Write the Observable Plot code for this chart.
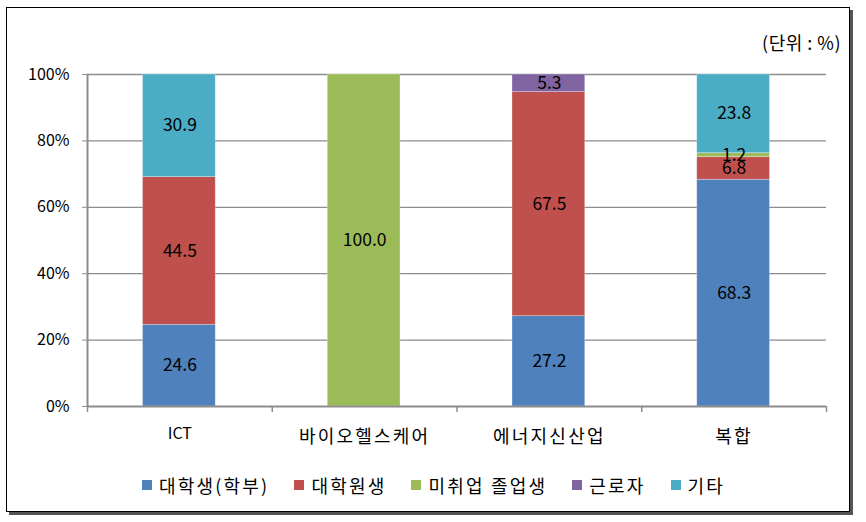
<!DOCTYPE html>
<html><head><meta charset="utf-8">
<script src="https://cdn.jsdelivr.net/npm/d3@7"></script>
<script src="https://cdn.jsdelivr.net/npm/@observablehq/plot@0.6"></script>
<style>
body{margin:0;background:#fff;font-family:"Noto Sans CJK KR","Noto Sans",sans-serif;}
#wrap{position:relative;width:866px;height:522px;}
#frame{position:absolute;left:6px;top:7px;width:842px;height:503px;border:1.5px solid #000;box-shadow:3px 3px 0 #555;}
#chart{position:absolute;left:0;top:0;}
#unit{position:absolute;right:25px;top:29px;font-size:18px;color:#000;letter-spacing:0.5px;}
#legend{position:absolute;left:142px;top:472px;display:flex;gap:25px;font-size:18px;letter-spacing:2.2px;color:#000;align-items:center;}
#legend .it{display:flex;align-items:center;}
#legend span.sw{display:inline-block;width:10px;height:10px;margin-right:7px;}
</style></head>
<body><div id="wrap"><div id="frame"></div><div id="chart"></div><div id="unit">(단위 : %)</div><div id="legend"></div></div>
<script>
const categories = ["ICT", "바이오헬스케어", "에너지신산업", "복합"];
const seriesNames = ["대학생(학부)", "대학원생", "미취업 졸업생", "근로자", "기타"];
const colors = ["#4F81BD", "#C0504D", "#9BBB59", "#8064A2", "#4BACC6"];
const values = {
  "대학생(학부)": [24.6, 0, 27.2, 68.3],
  "대학원생": [44.5, 0, 67.5, 6.8],
  "미취업 졸업생": [0, 100.0, 0, 1.2],
  "근로자": [0, 0, 5.3, 0],
  "기타": [30.9, 0, 0, 23.8]
};
const yTicks = [0, 20, 40, 60, 80, 100];

const rows = [];
categories.forEach((c, i) => {
  let acc = 0;
  seriesNames.forEach(s => {
    const v = values[s][i];
    if (v > 0) {
      const top = Math.min(100, acc + v);
      rows.push({cat: c, i, series: s, value: v, y1: acc, y2: top});
      acc = top;
    }
  });
});
const cats = categories.map((c, i) => ({c, i}));

const plot = Plot.plot({
  width: 866, height: 522,
  marginLeft: 87, marginRight: 40, marginTop: 74, marginBottom: 116,
  x: {domain: [0, 4], axis: null},
  y: {domain: [0, 100], axis: null},
  color: {domain: seriesNames, range: colors},
  style: {fontFamily: '"Noto Sans CJK KR","Noto Sans",sans-serif', background: "transparent"},
  marks: [
    Plot.ruleY(yTicks.filter(d => d > 0), {stroke: "#8c8c8c", strokeWidth: 1.3}),
    Plot.rect(rows, {x1: d => d.i, x2: d => d.i + 1, y1: "y1", y2: "y2", fill: "series", insetLeft: 55.5, insetRight: 56.5, stroke: "#ffffff", strokeOpacity: 0.35, strokeWidth: 0.8}),
    Plot.text(rows, {x: d => d.i + 0.5, y: d => (d.y1 + d.y2) / 2, text: d => d.value.toFixed(1), fill: "#000", fontSize: 17.5}),
    Plot.ruleX([0], {stroke: "#8c8c8c", strokeWidth: 2}),
    Plot.ruleY([0], {stroke: "#8c8c8c", strokeWidth: 2}),
    Plot.axisY({ticks: yTicks, tickFormat: d => d + "%", tickSize: 5, tickPadding: 13, stroke: "#8c8c8c", fontSize: 16, color: "#000"}),
    Plot.axisX({ticks: [0, 1, 2, 3, 4], tickFormat: () => "", tickSize: 6, stroke: "#8c8c8c", strokeWidth: 1.5}),
    Plot.text(cats, {x: d => d.i + 0.5, y: 0, text: "c", dy: 31, fontSize: 18, fill: "#000"})
  ]
});
document.getElementById("chart").appendChild(plot);
d3.select(plot).selectAll("text").each(function() {
  const t = d3.select(this);
  const s = t.text();
  if (!categories.includes(s)) return;
  if (s === "ICT") { t.attr("dy", "-0.2em").attr("font-size", 16); }
  else t.attr("letter-spacing", 2.2).style("letter-spacing", "2.2px");
});

const leg = document.getElementById("legend");
seriesNames.forEach((s, k) => {
  const it = document.createElement("div");
  it.className = "it";
  it.innerHTML = `<span class="sw" style="background:${colors[k]}"></span>${s}`;
  leg.appendChild(it);
});
</script></body></html>
